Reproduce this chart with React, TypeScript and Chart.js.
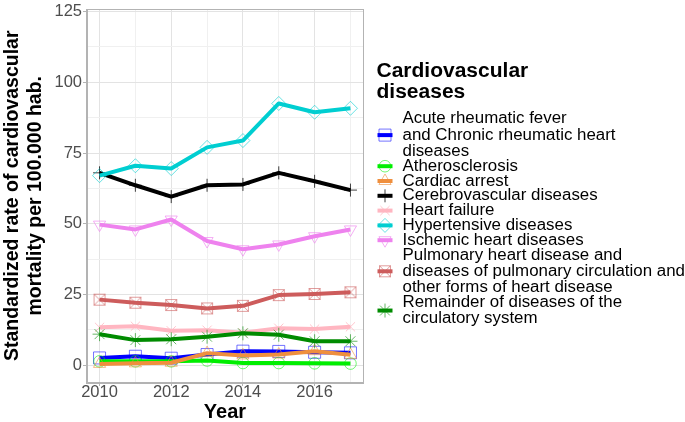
import React, { useEffect, useRef } from 'react';
import { Chart, registerables } from 'chart.js';
import { drawPoint } from 'chart.js/helpers';

Chart.register(...registerables);

const FONT = '"Liberation Sans", Arial, Helvetica, sans-serif';

const years = [2010, 2011, 2012, 2013, 2014, 2015, 2016, 2017];

const acuteRheumatic = [2.6, 3.2, 2.5, 3.8, 5.0, 4.9, 4.6, 4.4];
const atherosclerosis = [1.4, 1.4, 1.4, 1.7, 0.8, 0.8, 0.7, 0.6];
const cardiacArrest = [0.5, 0.7, 0.9, 4.3, 3.5, 3.8, 5.0, 3.7];
const cerebrovascular = [68, 63.6, 59.6, 63.6, 63.9, 68, 65, 61.9];
const heartFailure = [13.4, 13.8, 12.2, 12.4, 11.5, 13.1, 12.8, 13.6];
const hypertensive = [67, 70.5, 69.5, 77, 79.4, 92.5, 89.4, 90.8];
const ischemic = [49.7, 48, 51.5, 43.9, 41, 42.7, 45.6, 48];
const pulmonary = [23.2, 22.1, 21.3, 20.1, 21, 24.8, 25.2, 25.8];
const remainder = [11, 8.9, 9.2, 10.1, 11.3, 10.8, 8.5, 8.5];

const seriesValues = [
  acuteRheumatic, atherosclerosis, cardiacArrest, cerebrovascular, heartFailure,
  hypertensive, ischemic, pulmonary, remainder,
];

const seriesNames = [
  'Acute rheumatic fever and Chronic rheumatic heart diseases',
  'Atherosclerosis',
  'Cardiac arrest',
  'Cerebrovascular diseases',
  'Heart failure',
  'Hypertensive diseases',
  'Ischemic heart diseases',
  'Pulmonary heart disease and diseases of pulmonary circulation and other forms of heart disease',
  'Remainder of diseases of the circulatory system',
];

const legendLines = [
  ['Acute rheumatic fever', 'and Chronic rheumatic heart', 'diseases'],
  ['Atherosclerosis'],
  ['Cardiac arrest'],
  ['Cerebrovascular diseases'],
  ['Heart failure'],
  ['Hypertensive diseases'],
  ['Ischemic heart diseases'],
  ['Pulmonary heart disease and', 'diseases of pulmonary circulation and', 'other forms of heart disease'],
  ['Remainder of diseases of the', 'circulatory system'],
];

const legendTitle = ['Cardiovascular', 'diseases'];
const yTitle = ['Standardized rate of cardiovascular', 'mortality per 100.000 hab.'];
const xTitle = 'Year';

const yMajor = [0, 25, 50, 75, 100, 125];
const yMinor = [12.5, 37.5, 62.5, 87.5, 112.5];
const xMajor = [2010, 2012, 2014, 2016];
const xMinor = [2011, 2013, 2015, 2017];

// styles
const lineColors = ['#0000FF', '#00EE00', '#EF8F3E', '#000000', '#FFB6C1', '#00CED1', '#EE82EE', '#CD5C5C', '#008B00'];
const markerColors = [
  'rgba(0,0,255,0.55)', 'rgba(0,238,0,0.55)', 'rgba(239,143,62,0.6)', 'rgba(0,0,0,0.75)',
  'rgba(255,182,193,0.8)', 'rgba(0,206,209,0.6)', 'rgba(238,130,238,0.65)', 'rgba(205,92,92,0.6)', 'rgba(0,139,0,0.6)',
];
const markerRadii = [8.5, 5.8, 7, 6.5, 6.5, 7, 7, 7, 7];
const markerRotations = [0, 0, 0, 0, 0, 0, 180, 0, 0];

function makeBoxX(color: string): HTMLCanvasElement {
  const c = document.createElement('canvas');
  c.width = 14;
  c.height = 14;
  const g = c.getContext('2d')!;
  g.strokeStyle = color;
  g.lineWidth = 1;
  g.strokeRect(1.5, 1.5, 11, 11);
  g.beginPath();
  g.moveTo(1.5, 1.5);
  g.lineTo(12.5, 12.5);
  g.moveTo(12.5, 1.5);
  g.lineTo(1.5, 12.5);
  g.stroke();
  return c;
}

function stretchedText(ctx: CanvasRenderingContext2D, text: string, x: number, y: number, sx: number) {
  ctx.save();
  ctx.translate(x, y);
  ctx.scale(sx, 1);
  ctx.fillText(text, 0, 0);
  ctx.restore();
}

export default function App() {
  const ref = useRef<HTMLCanvasElement | null>(null);

  useEffect(() => {
    const canvas = ref.current;
    if (!canvas) return;
    const boxX = makeBoxX(markerColors[7]);
    const pointStyles: any[] = ['rect', 'circle', 'triangle', 'cross', 'crossRot', 'rectRot', 'triangle', boxX, 'star'];
    const N = seriesNames.length;

    const panelBorder = {
      id: 'panelBorder',
      afterDatasetsDraw(chart: any) {
        const { ctx, chartArea } = chart;
        ctx.save();
        ctx.strokeStyle = '#B3B3B3';
        ctx.lineWidth = 1;
        ctx.strokeRect(
          Math.round(chartArea.left) - 0.5,
          Math.round(chartArea.top) - 0.5,
          Math.round(chartArea.right - chartArea.left) + 1,
          Math.round(chartArea.bottom - chartArea.top) + 1,
        );
        ctx.restore();
      },
    };

    const customLegend = {
      id: 'customLegend',
      afterDraw(chart: any) {
        const ctx = chart.ctx as CanvasRenderingContext2D;
        ctx.save();
        ctx.fillStyle = '#000';
        ctx.textBaseline = 'alphabetic';
        ctx.textAlign = 'left';
        ctx.font = `bold 20px ${FONT}`;
        stretchedText(ctx, legendTitle[0], 376.5, 77.3, 1.05);
        stretchedText(ctx, legendTitle[1], 376.5, 98.3, 1.05);

        ctx.font = `16px ${FONT}`;
        let y = 123.3;
        legendLines.forEach((lines, i) => {
          const first = y;
          lines.forEach((ln, j) => {
            ctx.fillStyle = '#000';
            stretchedText(ctx, ln, 402.5, y, 1.055);
            if (j < lines.length - 1) y += 16.3;
          });
          const cy = (first + y) / 2 - 4.5;
          ctx.strokeStyle = lineColors[i];
          ctx.lineWidth = 4;
          ctx.lineCap = 'butt';
          ctx.beginPath();
          ctx.moveTo(377.5, cy);
          ctx.lineTo(392.5, cy);
          ctx.stroke();
          ctx.strokeStyle = markerColors[i];
          ctx.fillStyle = 'rgba(0,0,0,0)';
          ctx.lineWidth = 1;
          drawPoint(ctx, {
            pointStyle: pointStyles[i],
            rotation: markerRotations[i],
            radius: markerRadii[i],
            borderWidth: 1,
          } as any, 385, cy);
          y += 14.8;
        });
        ctx.restore();
      },
    };

    const chart = new Chart(canvas, {
      type: 'line',
      data: {
        datasets: seriesNames.map((name, i) => ({
          label: name,
          data: years.map((x, j) => ({ x, y: seriesValues[i][j] })),
          borderColor: lineColors[i],
          borderWidth: 4,
          borderJoinStyle: 'round' as const,
          tension: 0,
          fill: false,
          pointStyle: pointStyles[i],
          pointRotation: markerRotations[i],
          pointRadius: markerRadii[i],
          pointBorderColor: markerColors[i],
          pointBackgroundColor: 'rgba(0,0,0,0)',
          pointBorderWidth: 1,
          order: N - i,
        })),
      },
      options: {
        responsive: false,
        animation: false,
        events: [],
        layout: { padding: { left: 0, top: 4, right: 322, bottom: 0 } },
        plugins: {
          legend: { display: false },
          tooltip: { enabled: false },
        },
        scales: {
          x: {
            type: 'linear',
            min: 2009.65,
            max: 2017.35,
            afterBuildTicks: (scale: any) => {
              scale.ticks = [...xMajor, ...xMinor].sort((a, b) => a - b).map((v) => ({ value: v }));
            },
            afterFit: (scale: any) => {
              scale.height = 40;
              scale.paddingLeft = 0;
              scale.paddingRight = 0;
            },
            border: { display: true, color: '#B3B3B3', width: 1 },
            grid: {
              drawTicks: true,
              tickLength: 4,
              color: (c: any) => (c.tick && xMajor.includes(c.tick.value) ? '#E3E3E3' : '#F0F0F0'),
              tickColor: (c: any) => (c.tick && xMajor.includes(c.tick.value) ? '#B3B3B3' : 'rgba(0,0,0,0)'),
              lineWidth: 1,
            },
            ticks: {
              autoSkip: false,
              maxRotation: 0,
              padding: 2,
              color: '#4D4D4D',
              font: { family: FONT, size: 16.5, lineHeight: 0.5 },
              callback: (v: any) => (xMajor.includes(Number(v)) ? String(v) : ''),
            },
            title: {
              display: true,
              text: xTitle,
              color: '#000',
              font: { family: FONT, size: 20, weight: 'bold', lineHeight: 1 },
              padding: { top: 0, bottom: -0.5 },
            },
          },
          y: {
            type: 'linear',
            min: -5.9,
            max: 125.7,
            afterBuildTicks: (scale: any) => {
              scale.ticks = [...yMajor, ...yMinor].sort((a, b) => a - b).map((v) => ({ value: v }));
            },
            afterFit: (scale: any) => {
              scale.width = 87;
              scale.paddingTop = 0;
              scale.paddingBottom = 0;
            },
            border: { display: true, color: '#B3B3B3', width: 1 },
            grid: {
              drawTicks: true,
              tickLength: 4,
              color: (c: any) => (c.tick && yMajor.includes(c.tick.value) ? '#E3E3E3' : '#F0F0F0'),
              tickColor: (c: any) => (c.tick && yMajor.includes(c.tick.value) ? '#B3B3B3' : 'rgba(0,0,0,0)'),
              lineWidth: 1,
            },
            ticks: {
              autoSkip: false,
              padding: 1,
              color: '#4D4D4D',
              font: { family: FONT, size: 16.5 },
              callback: (v: any) => (yMajor.includes(Number(v)) ? String(v) : ''),
            },
            title: {
              display: true,
              text: yTitle,
              color: '#000',
              font: { family: FONT, size: 19.5, weight: 'bold', lineHeight: 1.18 },
              padding: { top: 1, bottom: 0 },
            },
          },
        },
      } as any,
      plugins: [panelBorder, customLegend],
    });

    return () => chart.destroy();
  }, []);

  return (
    <div style={{ position: 'fixed', left: 0, top: 0, width: 685, height: 422, background: '#fff' }}>
      <canvas ref={ref} width={685} height={422} style={{ width: 685, height: 422, display: 'block' }} />
    </div>
  );
}
